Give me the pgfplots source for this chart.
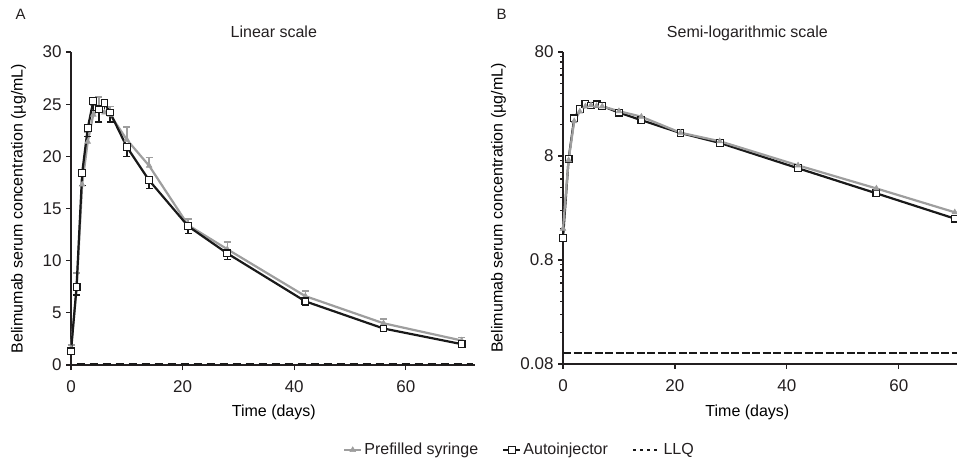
\documentclass[border=0pt]{standalone}
\usepackage{pgfplots}
\pgfplotsset{compat=1.18}
\usepackage{fontspec}
\setmainfont{Liberation Sans}
\definecolor{txt}{RGB}{35,31,32}
\definecolor{pfs}{RGB}{158,158,158}
\definecolor{ai}{RGB}{25,25,25}
\begin{document}
\fontsize{16pt}{19pt}\selectfont
\begin{tikzpicture}
\path[use as bounding box] (0,0) rectangle (957pt,459pt);
\pgfplotsset{
  myaxis/.style={
    scale only axis,
    anchor=south west,
    axis lines=left,
    axis line style={-, line width=1.3pt, txt},
    tick style={line width=1.2pt, txt},
    tick align=outside,
    major tick length=5pt,
    minor tick num=0,
    font=\fontsize{16pt}{19pt}\selectfont,
    tick label style={font=\fontsize{17pt}{20pt}\selectfont, text=txt},
    xticklabel style={yshift=-5pt},
    yticklabel style={xshift=1pt},
    /pgf/number format/assume math mode=true,
    label style={text=txt},
    clip=false,
  },
  pfsplot/.style={color=pfs, line width=2.2pt, mark=triangle*, mark size=3.2pt, mark options={solid, fill=pfs, draw=pfs, line width=0.6pt}},
  aiplot/.style={color=ai, line width=2.2pt, mark=square*, mark size=3.4pt, mark options={solid, fill=white, draw=ai, line width=1.1pt}},
}
% ---------------- Panel A ----------------
\begin{axis}[myaxis,
  at={(71pt,94pt)}, width=404pt, height=313pt,
  xmin=0, xmax=72.4, ymin=0, ymax=30,
  xtick={0,20,40,60}, ytick={0,5,10,15,20,25,30},
  xlabel={Time (days)},
  ylabel={Belimumab serum concentration (µg/mL)},
  every axis x label/.style={at={(axis description cs:0.502,-0.150)}, anchor=center},
  every axis y label/.style={at={(axis description cs:-0.130,0.5)}, rotate=90, anchor=center},
  title={Linear scale},
  every axis title/.style={at={(axis description cs:0.502,1.045)}, anchor=base, text=txt},
  legend style={at={(axis description cs:1.110,-0.2716)}, anchor=center, legend columns=3, draw=none, fill=none, text=txt, font=\fontsize{16pt}{19pt}\selectfont, /tikz/every even column/.append style={column sep=22pt}, inner sep=0pt},
  legend cell align=left,
]
\addplot[pfsplot,
  error bars/.cd, y dir=plus, y explicit,
  error bar style={line width=1.4pt, color=pfs, solid},
  error mark options={rotate=90, mark size=3.5pt, line width=1.4pt, color=pfs}]
  coordinates {
  (0,1.6) +- (0,0.3)
  (1,7.3) +- (0,1.5)
  (2,17.3) +- (0,1.0)
  (3,21.4) +- (0,0.9)
  (4,24.0) +- (0,0.9)
  (5,24.6) +- (0,1.1)
  (6,24.2) +- (0,0.8)
  (7,24.0) +- (0,0.8)
  (10,21.6) +- (0,1.2)
  (14,19.1) +- (0,0.8)
  (21,13.4) +- (0,0.6)
  (28,11.1) +- (0,0.7)
  (42,6.6) +- (0,0.5)
  (56,4.0) +- (0,0.4)
  (70,2.35) +- (0,0.3)
  };
\addlegendentry{Prefilled syringe}
\addplot[aiplot,
  error bars/.cd, y dir=minus, y explicit,
  error bar style={line width=1.4pt, color=ai, solid},
  error mark options={rotate=90, mark size=3.5pt, line width=1.4pt, color=ai}]
  coordinates {
  (0,1.3) +- (0,0.2)
  (1,7.5) +- (0,0.8)
  (2,18.4) +- (0,1.2)
  (3,22.7) +- (0,0.8)
  (4,25.3) +- (0,0.9)
  (5,24.5) +- (0,1.2)
  (6,25.1) +- (0,0.8)
  (7,24.2) +- (0,0.9)
  (10,20.9) +- (0,0.9)
  (14,17.7) +- (0,0.8)
  (21,13.3) +- (0,0.7)
  (28,10.7) +- (0,0.6)
  (42,6.1) +- (0,0.4)
  (56,3.5) +- (0,0.25)
  (70,2.0) +- (0,0.15)
  };
\addlegendentry{Autoinjector}
\addplot[ai, line width=2.4pt, dash pattern=on 8pt off 5pt, mark=none,
  legend image code/.code={\draw[ai, line width=2.6pt, dash pattern=on 3pt off 4pt] (0pt,0pt) -- (27pt,0pt);}]
  coordinates {(1,0.1) (72,0.1)};
\addlegendentry{LLQ}
\end{axis}
\node[anchor=base west, text=txt, font=\fontsize{15pt}{17pt}\selectfont] at (10pt,439pt) {A};
% ---------------- Panel B ----------------
\begin{axis}[myaxis,
  at={(563pt,95pt)}, width=394pt, height=312pt,
  ymode=log,
  xmin=0, xmax=70.4, ymin=0.08, ymax=80,
  xtick={0,20,40,60},
  ytick={0.08,0.8,8,80},
  yticklabels={0.08,0.8,8,80},
  xlabel={Time (days)},
  ylabel={Belimumab serum concentration (µg/mL)},
  every axis x label/.style={at={(axis description cs:0.468,-0.154)}, anchor=center},
  every axis y label/.style={at={(axis description cs:-0.1637,0.5)}, rotate=90, anchor=center},
  title={Semi-logarithmic scale},
  every axis title/.style={at={(axis description cs:0.468,1.045)}, anchor=base, text=txt},
]
\addplot[ai, line width=1.6pt, dash pattern=on 8pt off 2.5pt, mark=none]
  coordinates {(0,0.102) (70.4,0.102)};
\addplot[aiplot] coordinates {
  (0,1.3) (1,7.5) (2,18.4) (3,22.7) (4,25.3) (5,24.5) (6,25.1) (7,24.2)
  (10,20.9) (14,17.7) (21,13.3) (28,10.7) (42,6.1) (56,3.5) (70,2.0)
  };
\addplot[pfsplot] coordinates {
  (0,1.6) (1,7.3) (2,17.3) (3,21.4) (4,24.0) (5,24.6) (6,24.2) (7,24.0)
  (10,21.6) (14,19.1) (21,13.4) (28,11.1) (42,6.5) (56,3.9) (70,2.3)
  };
\end{axis}
\node[anchor=base west, text=txt, font=\fontsize{15pt}{17pt}\selectfont] at (491pt,439pt) {B};
\end{tikzpicture}
\end{document}
